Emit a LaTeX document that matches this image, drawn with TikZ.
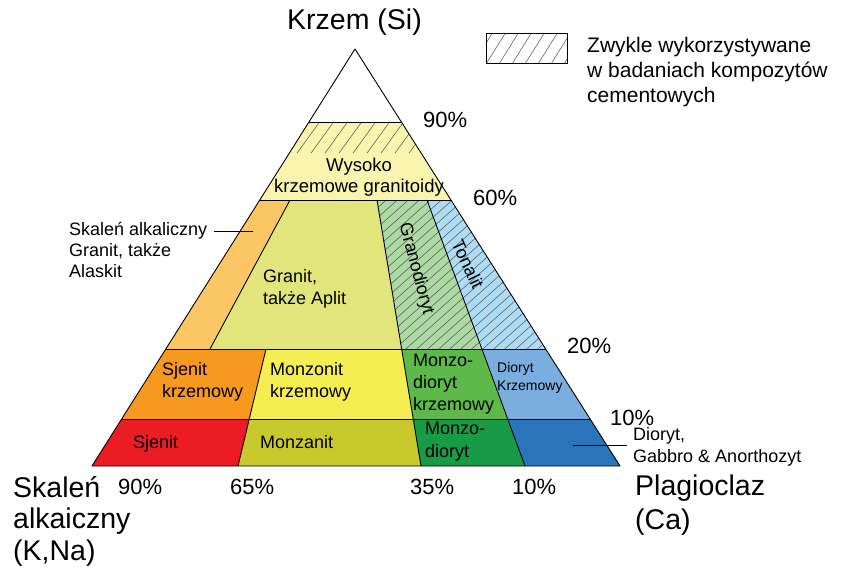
\documentclass[tikz,border=0pt]{standalone}
\usepackage{fontspec}
\setmainfont{Liberation Sans}
\definecolor{cWys}{HTML}{F9F5AE}
\definecolor{cAlk}{HTML}{FBC765}
\definecolor{cGra}{HTML}{E2E57C}
\definecolor{cGrd}{HTML}{ACD9A4}
\definecolor{cTon}{HTML}{AEDCF5}
\definecolor{cSjK}{HTML}{F7981F}
\definecolor{cMoK}{HTML}{F4EE52}
\definecolor{cMdK}{HTML}{5DB94A}
\definecolor{cDiK}{HTML}{7AAEDF}
\definecolor{cSje}{HTML}{EC1C24}
\definecolor{cMon}{HTML}{C9C82C}
\definecolor{cMdi}{HTML}{179B47}
\definecolor{cDio}{HTML}{2A74BA}
\begin{document}
\begin{tikzpicture}[x=1pt,y=-1pt,
  region/.style={draw=black, line width=0.9pt, line join=round},
  hatchline/.style={draw=black!65, line width=0.55pt},
  lbl/.style={inner sep=0pt, anchor=base west, align=left, font=\fontsize{18}{22}\selectfont},
  lblc/.style={inner sep=0pt, anchor=base, align=center, font=\fontsize{18.5}{21}\selectfont},
  pct/.style={inner sep=0pt, anchor=base west, font=\fontsize{22}{26}\selectfont},
  big/.style={inner sep=0pt, anchor=base west, align=left, font=\fontsize{28.5}{31.5}\selectfont},
  leader/.style={draw=black, line width=0.9pt}]
\useasboundingbox (0,0) rectangle (842,574);
% corner coordinates
\coordinate (A) at (355,49);
\coordinate (BL) at (92,466);
\coordinate (BR) at (620,466);
\coordinate (L1) at (309,122);   \coordinate (R1) at (401.4,122);
\coordinate (L2) at (259.8,200); \coordinate (R2) at (451,200);
\coordinate (L3) at (165.8,349); \coordinate (R3) at (545.6,349);
\coordinate (L4) at (121.6,419); \coordinate (R4) at (590.1,419);
% divider points
\coordinate (D1t) at (290,200);  \coordinate (D1b) at (210,349);
\coordinate (Gt) at (377,200);   \coordinate (G3) at (401.6,349); \coordinate (G4) at (413.2,419); \coordinate (G5) at (421,466);
\coordinate (Tt) at (427,200);   \coordinate (T3) at (481.9,349); \coordinate (T4) at (507.7,419); \coordinate (T5) at (525,466);
\coordinate (S3) at (266,349);   \coordinate (S4) at (249.3,419); \coordinate (S5) at (238,466);
% fills
\fill[white] (A) -- (L1) -- (R1) -- cycle;
\fill[cWys] (L1) -- (R1) -- (R2) -- (L2) -- cycle;
\fill[cAlk] (L2) -- (D1t) -- (D1b) -- (L3) -- cycle;
\fill[cGra] (D1t) -- (Gt) -- (G3) -- (D1b) -- cycle;
\fill[cGrd] (Gt) -- (Tt) -- (T3) -- (G3) -- cycle;
\fill[cTon] (Tt) -- (R2) -- (R3) -- (T3) -- cycle;
\fill[cSjK] (L3) -- (S3) -- (S4) -- (L4) -- cycle;
\fill[cMoK] (S3) -- (G3) -- (G4) -- (S4) -- cycle;
\fill[cMdK] (G3) -- (T3) -- (T4) -- (G4) -- cycle;
\fill[cDiK] (T3) -- (R3) -- (R4) -- (T4) -- cycle;
\fill[cSje] (L4) -- (S4) -- (S5) -- (BL) -- cycle;
\fill[cMon] (S4) -- (G4) -- (G5) -- (S5) -- cycle;
\fill[cMdi] (G4) -- (T4) -- (T5) -- (G5) -- cycle;
\fill[cDio] (T4) -- (R4) -- (BR) -- (T5) -- cycle;
% hatching: high-silica granitoids (upper part)
\begin{scope}
  \clip (L1) -- (R1) -- (421.1,153) -- (289.4,153) -- cycle;
  \foreach \x in {250,264,...,430} {\draw[hatchline] (\x,160) -- ++(36.3,-50);}
\end{scope}
% hatching: granodiorite and tonalite
\begin{scope}
  \clip (Gt) -- (R2) -- (R3) -- (G3) -- cycle;
  \foreach \x in {190,201,...,560} {\draw[hatchline] (\x,355) -- ++(180,-160);}
\end{scope}
% outlines
\draw[region] (A) -- (BR) -- (BL) -- cycle;
\draw[region] (L1) -- (R1);
\draw[region] (L2) -- (R2);
\draw[region] (L3) -- (R3);
\draw[region] (L4) -- (R4);
\draw[region] (D1t) -- (D1b);
\draw[region] (Gt) -- (G5);
\draw[region] (Tt) -- (T5);
\draw[region] (S3) -- (S5);
% region labels (base anchor = baseline of the last line)
\node[lblc] (wys) at (359,192) {Wysoko\\krzemowe granitoidy};
\node[lbl] (gran) at (263,304) {Granit,\\także Aplit};
\node[inner sep=0pt, rotate=-75, font=\fontsize{18}{22}\selectfont] (grd) at (416,269) {Granodioryt};
\node[inner sep=0pt, rotate=-65, font=\fontsize{18}{22}\selectfont] (ton) at (468,264) {Tonalit};
\node[lbl] (sjk) at (162,397) {Sjenit\\krzemowy};
\node[lbl] (mok) at (270,397) {Monzonit\\krzemowy};
\node[lbl] (mdk) at (413,410) {Monzo-\\dioryt\\krzemowy};
\node[lbl, font=\fontsize{14}{18}\selectfont] (dik) at (497,390) {Dioryt\\Krzemowy};
\node[lbl] (sje) at (133,448) {Sjenit};
\node[lbl] (mon) at (260,448) {Monzanit};
\node[lbl, font=\fontsize{18}{23}\selectfont] (mdi) at (425,457) {Monzo-\\dioryt};
% outside labels
\node[lbl, font=\fontsize{18}{21}\selectfont] (alk) at (69,277) {Skaleń alkaliczny\\Granit, także\\Alaskit};
\coordinate (alkA) at (214,231); \coordinate (alkB) at (253,231);
\draw[leader] (alkA) -- (alkB);
\node[lbl] (dio) at (633,462) {Dioryt,\\Gabbro \& Anorthozyt};
\coordinate (dioA) at (573,445); \coordinate (dioB) at (627,445);
\draw[leader] (dioA) -- (dioB);
% percentages
\node[pct] (p90) at (423,127) {90\%};
\node[pct] (p60) at (473,205) {60\%};
\node[pct] (p20) at (567,353) {20\%};
\node[pct] (p10) at (610,425) {10\%};
\node[pct] (b90) at (118,494) {90\%};
\node[pct] (b65) at (230,494) {65\%};
\node[pct] (b35) at (410,494) {35\%};
\node[pct] (b10) at (512,494) {10\%};
% corner labels
\node[big] (si) at (287,29) {Krzem (Si)};
\node[big] (kna) at (13,560) {Skaleń\\alkaiczny\\(K,Na)};
\node[big, font=\fontsize{28.5}{34}\selectfont] (ca) at (635,529) {Plagioclaz\\(Ca)};
% legend
\node[draw=black, line width=0.9pt, minimum width=81pt, minimum height=30pt, inner sep=0pt, anchor=north west] (leg) at (486,33) {};
\begin{scope}
  \clip (leg.south west) rectangle (leg.north east);
  \foreach \x in {460,473,...,580} {\draw[hatchline] (\x,64) -- ++(20,-32);}
\end{scope}
\draw[line width=0.9pt] (leg.south west) rectangle (leg.north east);
\node[lbl, font=\fontsize{21}{25}\selectfont] (legt) at (587,102) {Zwykle wykorzystywane\\w badaniach kompozytów\\cementowych};
\end{tikzpicture}
\end{document}
